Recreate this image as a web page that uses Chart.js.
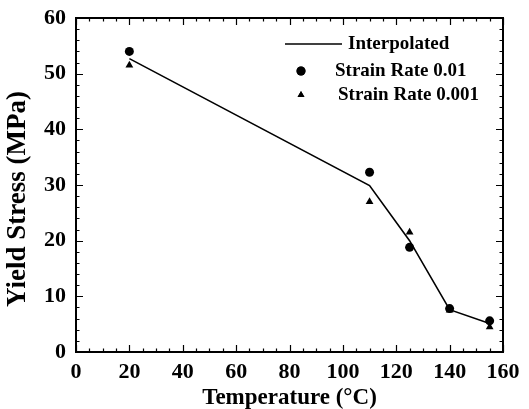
<!DOCTYPE html>
<html>
<head>
<meta charset="utf-8">
<script src="https://cdn.jsdelivr.net/npm/chart.js@4.4.1/dist/chart.umd.min.js"></script>
<style>
html, body { margin: 0; padding: 0; background: #fff; }
#wrap { width: 529px; height: 409px; }
</style>
</head>
<body>
<div id="wrap"><canvas id="chart" width="529" height="409"></canvas></div>
<script>
// Temperature (°C) of each test
const temps = [20, 110, 125, 140, 155];
// Yield stress (MPa)
const interpolated = [52.7, 29.9, 20.0, 7.6, 5.1];
const rateHigh = [54.0, 32.3, 18.8, 7.8, 5.6];   // strain rate 0.01
const rateLow = [51.5, 27.0, 21.5, 7.5, 4.5];    // strain rate 0.001
const xTicks = [0, 20, 40, 60, 80, 100, 120, 140, 160];
const yTicks = [0, 10, 20, 30, 40, 50, 60];
const yTitle = 'Yield Stress (MPa)';

const serif = '"Liberation Serif", "DejaVu Serif", serif';
const pts = ys => temps.map((t, i) => ({ x: t, y: ys[i] }));

// inward ticks + frame on all four sides, and the y title (sits a bit low in the original)
const frameTicks = {
    id: 'frameTicks',
    afterDraw(chart) {
        const { ctx, chartArea: a, scales: { x, y } } = chart;
        ctx.save();
        ctx.strokeStyle = '#000';
        ctx.lineWidth = 1.2;
        for (let v = 0; v <= 160; v += 5) {
            const px = Math.round(x.getPixelForValue(v)) + 0.5;
            const len = v % 20 === 0 ? 7 : 3.5;
            ctx.beginPath();
            ctx.moveTo(px, a.bottom); ctx.lineTo(px, a.bottom - len);
            ctx.moveTo(px, a.top); ctx.lineTo(px, a.top + len);
            ctx.stroke();
        }
        for (let v = 0; v <= 60; v += 2) {
            const py = Math.round(y.getPixelForValue(v)) + 0.5;
            const len = v % 10 === 0 ? 7 : 3.5;
            ctx.beginPath();
            ctx.moveTo(a.left, py); ctx.lineTo(a.left + len, py);
            ctx.moveTo(a.right, py); ctx.lineTo(a.right - len, py);
            ctx.stroke();
        }
        ctx.lineWidth = 2;
        ctx.strokeRect(a.left, a.top, a.right - a.left, a.bottom - a.top);

        ctx.translate(18, y.getPixelForValue(27.5));
        ctx.rotate(-Math.PI / 2);
        ctx.fillStyle = '#000';
        ctx.font = 'bold 27px ' + serif;
        ctx.textAlign = 'center';
        ctx.textBaseline = 'middle';
        ctx.fillText(yTitle, 0, 0);
        ctx.restore();
    }
};

// legend drawn in the upper right corner of the plot
const cornerLegend = {
    id: 'cornerLegend',
    afterDraw(chart) {
        const ctx = chart.ctx;
        const ds = chart.data.datasets;
        ctx.save();
        ctx.fillStyle = '#000';
        ctx.strokeStyle = '#000';
        ctx.font = 'bold 19px ' + serif;
        ctx.textBaseline = 'middle';
        ctx.textAlign = 'left';
        // line sample
        ctx.lineWidth = 1.3;
        ctx.beginPath(); ctx.moveTo(285, 44); ctx.lineTo(342, 44); ctx.stroke();
        ctx.fillText(ds[0].label, 348, 44);
        Chart.helpers.drawPoint(ctx, { pointStyle: 'circle', radius: 4.5, borderWidth: 0 }, 301, 71);
        ctx.fill();
        ctx.fillText(ds[1].label, 335, 71);
        Chart.helpers.drawPoint(ctx, { pointStyle: 'triangle', radius: 4, borderWidth: 0 }, 301, 95);
        ctx.fill();
        ctx.fillText(ds[2].label, 338, 95);
        ctx.restore();
    }
};

new Chart(document.getElementById('chart'), {
    type: 'scatter',
    data: {
        datasets: [
            { label: 'Interpolated', data: pts(interpolated), showLine: true, borderColor: '#000',
              borderWidth: 1.6, pointRadius: 0, backgroundColor: '#000' },
            { label: 'Strain Rate 0.01', data: pts(rateHigh), pointStyle: 'circle', pointRadius: 4.5,
              backgroundColor: '#000', borderColor: '#000', borderWidth: 0 },
            { label: 'Strain Rate 0.001', data: pts(rateLow), pointStyle: 'triangle', pointRadius: 4.5,
              backgroundColor: '#000', borderColor: '#000', borderWidth: 0 }
        ]
    },
    options: {
        responsive: false,
        animation: false,
        devicePixelRatio: 1,
        layout: { padding: { left: 0, top: 18, right: 26, bottom: 0 } },
        plugins: { legend: { display: false }, tooltip: { enabled: false } },
        scales: {
            x: {
                type: 'linear', min: 0, max: 160,
                afterBuildTicks: s => { s.ticks = xTicks.map(v => ({ value: v })); },
                afterFit: s => { s.height = 57; },
                grid: { display: false, drawTicks: false },
                border: { display: false },
                ticks: { color: '#000', padding: 7, maxRotation: 0, font: { family: serif, size: 22, weight: 'bold' } },
                title: { display: true, text: 'Temperature (°C)', color: '#000', padding: { top: 0, bottom: -3 },
                         font: { family: serif, size: 23, weight: 'bold' } }
            },
            y: {
                type: 'linear', min: 0, max: 60,
                afterBuildTicks: s => { s.ticks = yTicks.map(v => ({ value: v })); },
                afterFit: s => { s.width = 76; },
                grid: { display: false, drawTicks: false },
                border: { display: false },
                ticks: { color: '#000', padding: 10, font: { family: serif, size: 22, weight: 'bold', lineHeight: 0.6 } },
                title: { display: false, text: yTitle }
            }
        }
    },
    plugins: [frameTicks, cornerLegend]
});
</script>
</body>
</html>
